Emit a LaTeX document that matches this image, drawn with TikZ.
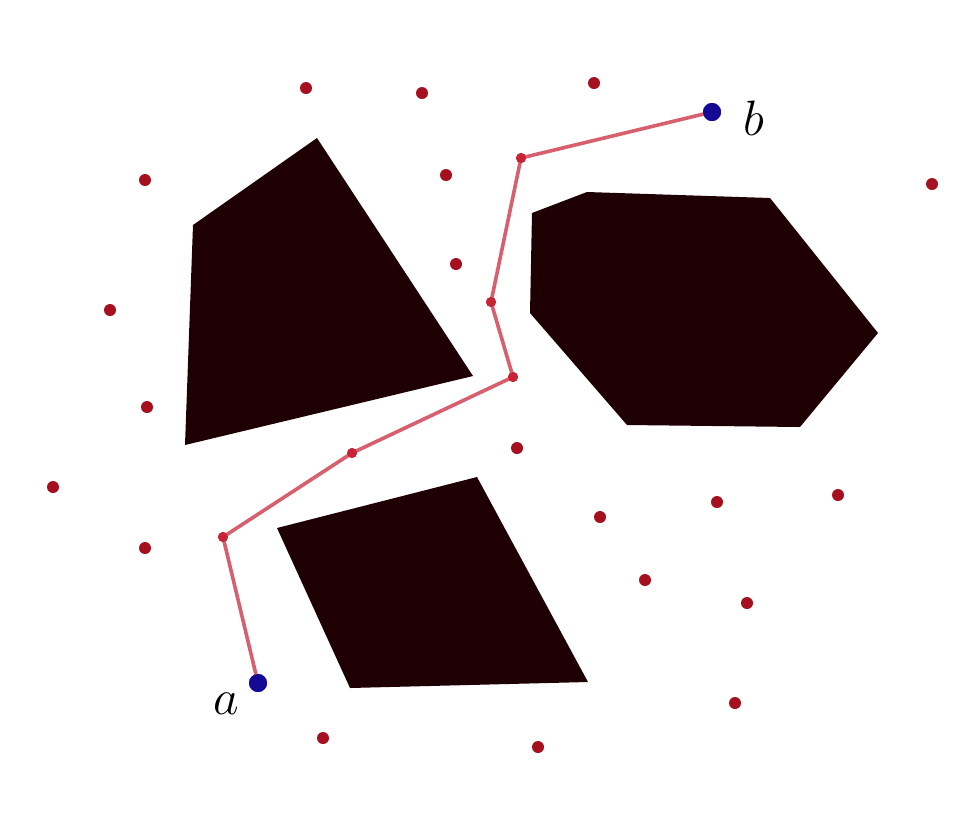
\documentclass[tikz,border=0pt]{standalone}
\begin{document}
\begin{tikzpicture}[x=0.5pt,y=-0.5pt,
  obstacle/.style={fill=obst,draw=none},
  sample/.style={circle,fill=dotred,inner sep=0pt,minimum size=6pt},
  waypt/.style={circle,fill=wayred,inner sep=0pt,minimum size=5pt},
  endpt/.style={circle,fill=endblue,inner sep=0pt,minimum size=9pt},
  route/.style={draw=pathred,line width=1.8pt,line join=round},
  lbl/.style={font=\fontsize{24}{28}\selectfont}]
\definecolor{obst}{RGB}{30,0,4}
\definecolor{dotred}{RGB}{165,15,30}
\definecolor{wayred}{RGB}{200,35,55}
\definecolor{endblue}{RGB}{20,10,150}
\definecolor{pathred}{RGB}{215,95,110}
\useasboundingbox (0,0) rectangle (980,816);
\fill[white] (0,0) rectangle (980,816);
% obstacles
\path[obstacle] (317,138) -- (193,225) -- (185,445) -- (473,376) -- cycle;
\path[obstacle] (532,213) -- (587,192) -- (770,198) -- (878,333) -- (800,427) -- (627,425) -- (530,313) -- cycle;
\path[obstacle] (277,528) -- (477,477) -- (588,682) -- (350,688) -- cycle;
% path vertices
\node[waypt] (p1) at (223,537) {};
\node[waypt] (q0) at (352,453) {};
\node[waypt] (p2) at (513,377) {};
\node[waypt] (p3) at (491,302) {};
\node[waypt] (p4) at (521,158) {};
\node[endpt] (a) at (258,683) {};
\node[endpt] (b) at (712,112) {};
\draw[route] (a.center) -- (p1.center) -- (q0.center) -- (p2.center) -- (p3.center) -- (p4.center) -- (b.center);
\node[waypt] at (p1) {};
\node[waypt] at (q0) {};
\node[waypt] at (p2) {};
\node[waypt] at (p3) {};
\node[waypt] at (p4) {};
\node[endpt] at (a) {};
\node[endpt] at (b) {};
% other samples
\node[sample] (s1) at (306,88) {};
\node[sample] (s2) at (422,93) {};
\node[sample] (s3) at (594,83) {};
\node[sample] (s4) at (145,180) {};
\node[sample] (s5) at (446,175) {};
\node[sample] (s6) at (932,184) {};
\node[sample] (s7) at (456,264) {};
\node[sample] (s8) at (110,310) {};
\node[sample] (s9) at (147,407) {};
\node[sample] (s10) at (517,448) {};
\node[sample] (s11) at (53,487) {};
\node[sample] (s12) at (600,517) {};
\node[sample] (s13) at (717,502) {};
\node[sample] (s14) at (838,495) {};
\node[sample] (s15) at (145,548) {};
\node[sample] (s16) at (645,580) {};
\node[sample] (s17) at (747,603) {};
\node[sample] (s18) at (735,703) {};
\node[sample] (s19) at (323,738) {};
\node[sample] (s20) at (538,747) {};
% labels
\node[lbl] (la) at (226,704) {$a$};
\node[lbl] (lb) at (754,118) {$b$};
\end{tikzpicture}
\end{document}
